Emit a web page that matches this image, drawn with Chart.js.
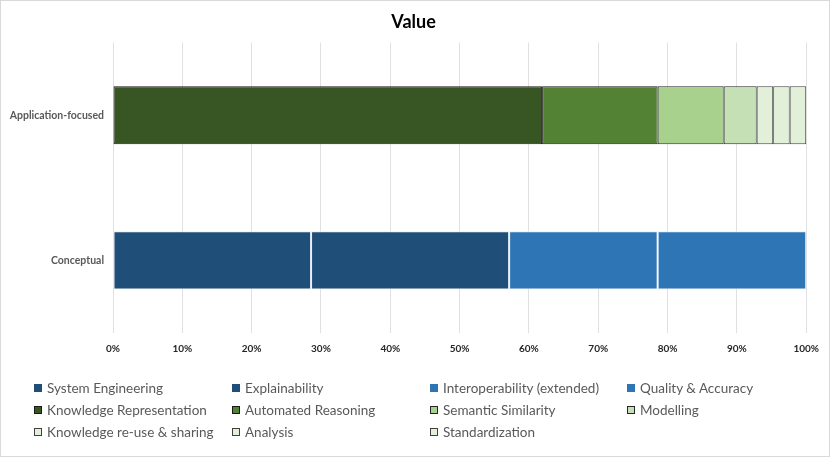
<!DOCTYPE html>
<html>
<head>
<meta charset="utf-8">
<script src="https://cdn.jsdelivr.net/npm/chart.js@4"></script>
<style>
  html, body { margin: 0; padding: 0; background: #fff; }
  #wrap {
    position: relative; width: 828px; height: 455px;
    border: 1px solid #d9d9d9; background: #fff; overflow: hidden;
  }
  #chart { position: absolute; left: 0; top: 0; }
  #legend {
    position: absolute; left: 33px; top: 376px;
    display: grid; grid-template-columns: 198px 198px 197px 200px;
    grid-auto-rows: 22px;
    font-family: Lato, "Open Sans", sans-serif; font-size: 13.5px; color: #595959;
  }
  .item { display: flex; align-items: center; white-space: nowrap; }
  .box { flex: 0 0 auto; width: 8px; height: 8px; margin-right: 5px; box-sizing: border-box; }
</style>
</head>
<body>
<div id="wrap">
  <canvas id="chart" width="828" height="455"></canvas>
  <div id="legend"></div>
</div>
<script>
const categories = ['Application-focused', 'Conceptual'];

// number of works per value, per category
const seriesNames = [
  'System Engineering', 'Explainability', 'Interoperability (extended)', 'Quality & Accuracy',
  'Knowledge Representation', 'Automated Reasoning', 'Semantic Similarity', 'Modelling',
  'Knowledge re-use & sharing', 'Analysis', 'Standardization'
];
const applicationCounts = [0, 0, 0, 0, 26, 7, 4, 2, 1, 1, 1];
const conceptualCounts = [4, 4, 3, 3, 0, 0, 0, 0, 0, 0, 0];

const seriesColors = [
  '#1f4e79', '#1f4e79', '#2e75b6', '#2e75b6',
  '#375623', '#548235', '#a9d18e', '#c5e0b4',
  '#e2f0d9', '#e2f0d9', '#e2f0d9'
];
const seriesBorders = [
  '#e8eef6', '#e8eef6', '#e8eef6', '#e8eef6',
  '#1a1a1a', '#1a1a1a', '#262626', '#262626',
  '#404040', '#404040', '#404040'
];

const xTicks = [0, 10, 20, 30, 40, 50, 60, 70, 80, 90, 100];

const appTotal = applicationCounts.reduce((a, b) => a + b, 0);
const conTotal = conceptualCounts.reduce((a, b) => a + b, 0);

const datasets = seriesNames.map((name, i) => ({
  label: name,
  data: [
    applicationCounts[i] ? applicationCounts[i] / appTotal * 100 : null,
    conceptualCounts[i] ? conceptualCounts[i] / conTotal * 100 : null
  ],
  backgroundColor: seriesColors[i],
  borderColor: seriesBorders[i],
  borderWidth: 1,
  borderSkipped: false,
  barPercentage: 0.8,
  categoryPercentage: 0.5
}));

// let the long category label run into the left padding instead of being clipped
const unclipLabels = {
  id: 'unclipLabels',
  afterLayout: c => { c.scales.y.left = 0; }
};

const font = 'Lato, "Open Sans", sans-serif';
const canvas = document.getElementById('chart');
const context = canvas.getContext('2d');
const chart = new Chart(context, {
  type: 'bar',
  data: { labels: categories, datasets: datasets },
  plugins: [unclipLabels],
  options: {
    indexAxis: 'y',
    responsive: false,
    animation: false,
    layout: { padding: { left: 19, right: 22, top: 4, bottom: 91 } },
    plugins: {
      legend: { display: false },
      tooltip: { enabled: false },
      title: {
        display: true,
        text: 'Value',
        color: '#000',
        font: { family: font, size: 18, weight: 'bold' },
        padding: { top: 6, bottom: 10 }
      }
    },
    scales: {
      x: {
        stacked: true,
        min: 0,
        max: 100,
        afterBuildTicks: axis => { axis.ticks = xTicks.map(v => ({ value: v })); },
        ticks: {
          callback: v => v + '%',
          color: '#262626',
          padding: 10,
          font: { family: font, size: 10, weight: 'bold' }
        },
        grid: { color: '#e0e0e0', drawTicks: false },
        border: { display: false }
      },
      y: {
        stacked: true,
        afterFit: axis => { axis.width = 93; },
        ticks: {
          color: '#595959',
          padding: 9,
          font: { family: font, size: 10.5, weight: 'bold' }
        },
        grid: { display: false, drawTicks: false },
        border: { display: false }
      }
    }
  }
});

// legend laid out in columns, like the original
const legend = document.getElementById('legend');
chart.data.datasets.forEach(ds => {
  const item = document.createElement('div');
  item.className = 'item';
  const box = document.createElement('span');
  box.className = 'box';
  box.style.background = ds.backgroundColor;
  box.style.border = '1px solid ' + (ds.borderColor === '#e8eef6' ? ds.backgroundColor : ds.borderColor);
  item.appendChild(box);
  item.appendChild(document.createTextNode(ds.label));
  legend.appendChild(item);
});
</script>
</body>
</html>
